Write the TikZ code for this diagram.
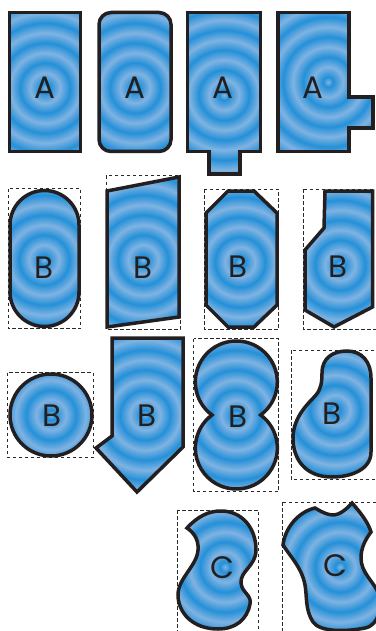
\documentclass[tikz,border=0pt]{standalone}
\usepackage{fontspec}
\setmainfont{Poppins}
\usepackage{xcolor}
\definecolor{shapeink}{HTML}{231F20}
\definecolor{ringlight}{HTML}{80B3E2}
\definecolor{ringdark}{HTML}{2490D8}
\definecolor{guidegray}{HTML}{2A2A2A}
\pgfdeclareradialshading{rings}{\pgfpoint{0bp}{0bp}}{%
  color(0bp)=(ringlight); color(1.25bp)=(ringdark); color(3.75bp)=(ringlight);
  color(6.25bp)=(ringdark); color(8.75bp)=(ringlight); color(11.25bp)=(ringdark);
  color(13.75bp)=(ringlight); color(16.25bp)=(ringdark); color(18.75bp)=(ringlight);
  color(21.25bp)=(ringdark); color(23.75bp)=(ringlight); color(26.25bp)=(ringdark);
  color(28.75bp)=(ringlight); color(31.25bp)=(ringdark); color(33.75bp)=(ringlight);
  color(36.25bp)=(ringdark); color(38.75bp)=(ringlight); color(50bp)=(ringlight)}

\begin{document}
\begin{tikzpicture}[
  x=1pt,
  y=-1pt,
  shapeline/.style={draw=shapeink, line width=3.5pt},
  rings at/.style={path picture={\shade[shading=rings] #1 circle [radius=100];}},
  guide/.style={draw=guidegray, line width=0.75pt, dash pattern=on 3.5pt off 2.5pt},
  letter/.style={text=shapeink, inner sep=0pt, font=\fontsize{31}{31}\selectfont}
]
  \useasboundingbox (0,0) rectangle (375,631);

  % ---- row A: rectangles ------------------------------------------------
  \path[shapeline, rings at={(45,88)}] (9.5,12.5) rectangle (80.5,151.5);
  \path[shapeline, rings at={(135,88)}, rounded corners=12pt]
    (99,12.5) rectangle (171,151.5);
  \path[shapeline, rings at={(224,95)}]
    (187.5,12.5) -- (260.5,12.5) -- (260.5,151.5) -- (240,151.5) -- (240,174)
    -- (209,174) -- (209,151.5) -- (187.5,151.5) -- cycle;
  \path[shapeline, rings at={(328,82)}]
    (278,12.5) -- (349,12.5) -- (349,97) -- (373,97) -- (373,128)
    -- (349,128) -- (349,151.5) -- (278,151.5) -- cycle;

  \node[letter] (a1) at (45,88) {A};
  \node[letter] (a2) at (135,88) {A};
  \node[letter] (a3) at (223,88) {A};
  \node[letter] (a4) at (313,88) {A};

  % ---- row B, first line ------------------------------------------------
  \draw[guide] (8,188.5) rectangle (80.5,328.5);
  \draw[guide] (106,175.5) rectangle (180,329.5);
  \draw[guide] (204,189) rectangle (278.5,329);
  \draw[guide] (303,189) rectangle (378,329);

  \path[shapeline, rings at={(44,260)}]
    (10,225) arc [start angle=180, end angle=360, radius=34.5]
    -- (79,292) arc [start angle=0, end angle=180, radius=34.5] -- cycle;
  \path[shapeline, rings at={(143,260)}]
    (107,191) -- (179,177) -- (179,317) -- (107,327) -- cycle;
  \path[shapeline, rings at={(240,262)}]
    (228,191) -- (254,191) -- (277,213) -- (277,305) -- (254,327)
    -- (228,327) -- (206,305) -- (206,213) -- cycle;
  \path[shapeline, rings at={(340,265)}]
    (325,191) -- (372.5,191) -- (372.5,307) -- (334,327) -- (305,310)
    -- (305,250) -- (324,228) -- cycle;

  \node[letter] (b1) at (44,268) {B};
  \node[letter] (b2) at (143,268) {B};
  \node[letter] (b3) at (238,267) {B};
  \node[letter] (b4) at (338,267) {B};

  % ---- row B, second line -----------------------------------------------
  \draw[guide] (7.5,372.5) rectangle (93,457.5);
  \draw[guide] (193.5,338.5) rectangle (278.5,491.5);
  \draw[guide] (291,350) rectangle (380,479.5);

  \path[shapeline, rings at={(51,415)}] (51,415) circle [radius=41];
  \path[shapeline, rings at={(145,415)}]
    (112,338) -- (183,338) -- (183,447) -- (137,492) -- (96,448)
    -- (112,436) -- cycle;
  \path[shapeline, rings at={(236,415)}]
    (212,415) arc [start angle=126.4, end angle=413.6, radius=41]
    arc [start angle=-53.6, end angle=233.6, radius=41] -- cycle;
  \path[shapeline, rings at={(335,410)}]
    (322,373) .. controls (322,358) and (333,351) .. (347,351)
    .. controls (362,351) and (371,362) .. (371,378) -- (371,452)
    .. controls (371,469) and (352,477) .. (332,477)
    .. controls (306,477) and (293,460) .. (293,438)
    .. controls (293,416) and (310,402) .. (316,395)
    .. controls (321,389) and (322,382) .. (322,373) -- cycle;

  \node[letter] (b5) at (52,416) {B};
  \node[letter] (b6) at (147,416) {B};
  \node[letter] (b7) at (238,417) {B};
  \node[letter] (b8) at (332,414) {B};

  % ---- row C: free blobs ------------------------------------------------
  \draw[guide] (177.5,510) rectangle (258.5,640);
  \draw[guide] (282,502) rectangle (380,640);

  \path[shapeline, rings at={(225,567)}]
    (187,528) .. controls (198,516) and (209,511) .. (221,511)
    .. controls (242,511) and (256,528) .. (256,550)
    .. controls (256,566) and (240,571) .. (241,583)
    .. controls (242,593) and (252,595) .. (250,604)
    .. controls (247,620) and (235,629) .. (218,629)
    .. controls (192,629) and (178,612) .. (178,595)
    .. controls (178,578) and (197,566) .. (198,550)
    .. controls (199,539) and (193,532) .. (187,528) -- cycle;
  \path[shapeline, rings at={(340,567)}]
    (283,545) .. controls (285,528) and (298,512) .. (315,508)
    .. controls (322,512) and (330,517) .. (338,514)
    .. controls (345,511) and (348,507) .. (352,503)
    .. controls (360,512) and (368,522) .. (371,532)
    .. controls (365,540) and (361,548) .. (361,558)
    .. controls (361,572) and (372,580) .. (378,592)
    .. controls (382,605) and (380,625) .. (365,628)
    .. controls (345,632) and (320,632) .. (313,622)
    .. controls (305,610) and (307,595) .. (305,585)
    .. controls (302,568) and (290,556) .. (283,545) -- cycle;

  \node[letter] (c1) at (222,568) {C};
  \node[letter] (c2) at (335,566) {C};
\end{tikzpicture}
\end{document}
